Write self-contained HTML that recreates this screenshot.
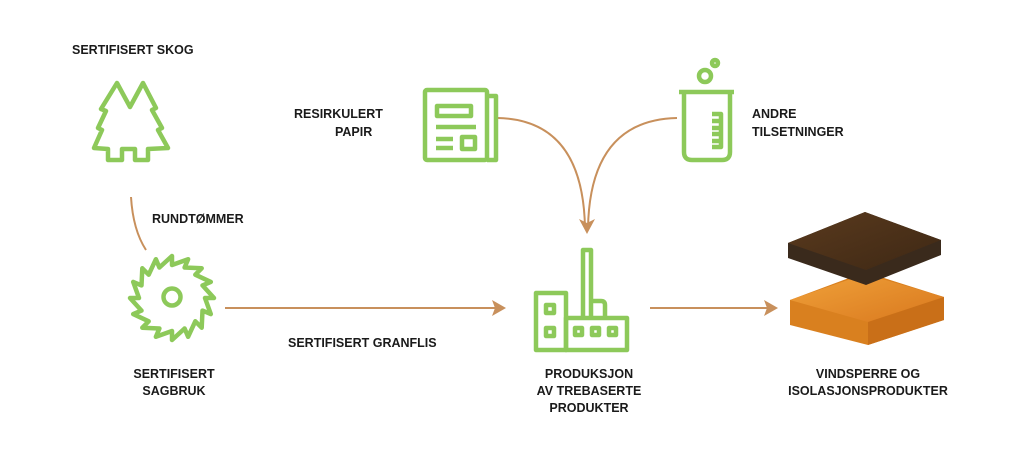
<!DOCTYPE html>
<html><head><meta charset="utf-8"><style>
html,body{margin:0;padding:0;background:#fff;}
svg text{font-family:"Liberation Sans","DejaVu Sans",sans-serif;font-weight:bold;font-size:12.5px;fill:#1a1a1a;}
</style></head><body>
<svg width="1024" height="460" viewBox="0 0 1024 460" xmlns="http://www.w3.org/2000/svg">
<defs>
<linearGradient id="dk" x1="0" y1="0" x2="1" y2="1"><stop offset="0" stop-color="#5a3a1e"/><stop offset="1" stop-color="#3e2814"/></linearGradient>
<linearGradient id="or" x1="0" y1="0" x2="1" y2="1"><stop offset="0" stop-color="#f0a23a"/><stop offset="1" stop-color="#d9781e"/></linearGradient>
</defs>
<g fill="none" stroke="#c8905c" stroke-width="2">
<path d="M131 197 Q133 230 146 250"/>
<path d="M225 308 L500 308"/>
<path d="M650 308 L772 308"/>
<path d="M498 118 Q583 120 585 228"/>
<path d="M677 118 Q590 120 588 228"/>
</g>
<g fill="#c8905c">
<path d="M506 308 L492 300 L495 308 L492 316 Z"/>
<path d="M778 308 L764 300 L767 308 L764 316 Z"/>
<path d="M587 234 L579 219 L587 223 L595 219 Z"/>
</g>
<g fill="none" stroke="#8dc95a" stroke-width="4.5" stroke-linejoin="round">
<!-- tree -->
<path d="M117 83 L130 107 L143 83 L156 108 L152 110 L162 128 L158 130 L168 148 L148 149 L148 160 L135 160 L135 149 L122 149 L122 160 L108 160 L108 149 L94 148 L102 130 L98 128 L106 111 L101 109 Z"/>
<!-- saw -->
<path d="M214 298 L205 298 L210.8 314.1 L202.5 310.6 L201.7 327.7 L195.3 321.3 L188.1 336.8 L184.6 328.5 L172 340 L172 331 L155.9 336.8 L159.4 328.5 L142.3 327.7 L148.7 321.3 L133.2 314.1 L141.5 310.6 L130 298 L139 298 L133.2 281.9 L141.5 285.4 L142.3 268.3 L148.7 274.7 L155.9 259.2 L159.4 267.5 L172 256 L172 265 L188.1 259.2 L184.6 267.5 L201.7 268.3 L195.3 274.7 L210.8 281.9 L202.5 285.4 Z"/>
<circle cx="172" cy="297" r="8.5"/>
<!-- newspaper -->
<rect x="425" y="90" width="62" height="70" rx="2"/>
<path d="M487 96 L496 96 L496 160 L487 160"/>
<rect x="437" y="106" width="34" height="10"/>
<path d="M436 127 L476 127 M436 139 L453 139 M436 148 L453 148"/>
<rect x="462" y="137" width="13" height="12"/>
<!-- beaker -->
<path d="M679 92 L734 92"/>
<path d="M684 92 L684 152 Q684 160 692 160 L722 160 Q730 160 730 152 L730 92"/>
<path d="M712 114 L721 114 L721 147 L712 147 M712 121 L719 121 M712 128 L719 128 M712 134 L719 134 M712 141 L719 141"/>
<circle cx="705" cy="76" r="6"/>
<circle cx="715" cy="63" r="3"/>
<!-- factory -->
<rect x="536" y="293" width="30" height="57"/>
<rect x="566" y="318" width="61" height="32"/>
<path d="M583 318 L583 250 L591 250 L591 318"/>
<path d="M591 301 L601 301 Q605 301 605 305 L605 318"/>
<rect x="546" y="305" width="8" height="8"/>
<rect x="546" y="328" width="8" height="8"/>
<rect x="575" y="328" width="7" height="7"/>
<rect x="592" y="328" width="7" height="7"/>
<rect x="609" y="328" width="7" height="7"/>
</g>
<!-- products -->
<path d="M790 300 L865 272 L944 297 L944 320 L868 345 L790 325 Z" fill="#d9801f"/>
<path d="M790 300 L865 274 L944 297 L868 322 Z" fill="url(#or)"/>
<path d="M868 322 L944 297 L944 320 L868 345 Z" fill="#c96f18"/>
<path d="M788 243 L865 212 L941 240 L941 255 L866 285 L788 258 Z" fill="#3a2a1c"/>
<path d="M788 243 L865 212 L941 240 L866 270 Z" fill="url(#dk)"/>
<text x="72" y="54">SERTIFISERT SKOG</text>
<text x="152" y="223">RUNDTØMMER</text>
<text x="294" y="118">RESIRKULERT</text>
<text x="335" y="136">PAPIR</text>
<text x="752" y="118">ANDRE</text>
<text x="752" y="136">TILSETNINGER</text>
<text x="288" y="347">SERTIFISERT GRANFLIS</text>
<text x="174" y="378" text-anchor="middle">SERTIFISERT</text>
<text x="174" y="395" text-anchor="middle">SAGBRUK</text>
<text x="589" y="378" text-anchor="middle">PRODUKSJON</text>
<text x="589" y="395" text-anchor="middle">AV TREBASERTE</text>
<text x="589" y="412" text-anchor="middle">PRODUKTER</text>
<text x="868" y="378" text-anchor="middle">VINDSPERRE OG</text>
<text x="868" y="395" text-anchor="middle">ISOLASJONSPRODUKTER</text>
</svg>
</body></html>
